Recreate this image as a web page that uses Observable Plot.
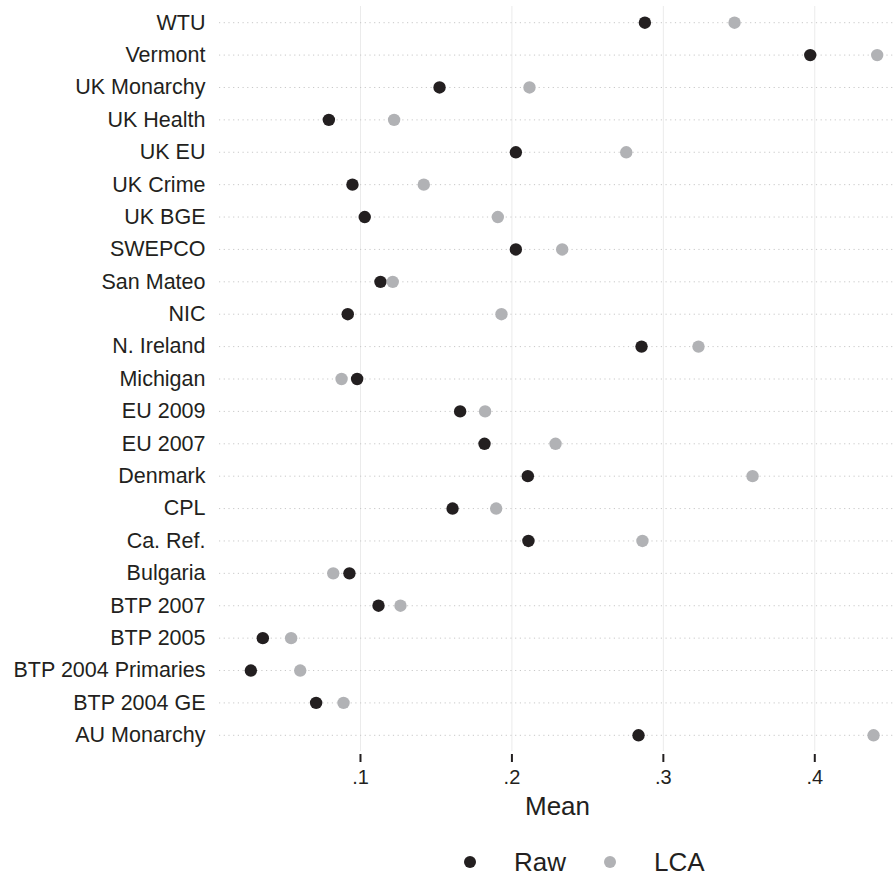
<!DOCTYPE html>
<html>
<head>
<meta charset="utf-8">
<script src="https://cdn.jsdelivr.net/npm/d3@7"></script>
<script src="https://cdn.jsdelivr.net/npm/@observablehq/plot@0.6"></script>
<style>
  html, body { margin: 0; padding: 0; background: #fff; }
  body { width: 895px; height: 876px; overflow: hidden; font-family: "Liberation Sans", Arial, Helvetica, sans-serif; color: #231f20; }
  #legend { display: flex; align-items: center; height: 60px; padding-left: 464px; font-size: 26px; line-height: 1; }
  #legend .dot { width: 12px; height: 12px; border-radius: 50%; display: inline-block; margin-right: 38px; }
  #legend .lbl { margin-right: 38px; }
</style>
</head>
<body>
<div id="chart"></div>
<div id="legend"></div>
<script>
const categories = ["WTU", "Vermont", "UK Monarchy", "UK Health", "UK EU", "UK Crime", "UK BGE", "SWEPCO", "San Mateo", "NIC", "N. Ireland", "Michigan", "EU 2009", "EU 2007", "Denmark", "CPL", "Ca. Ref.", "Bulgaria", "BTP 2007", "BTP 2005", "BTP 2004 Primaries", "BTP 2004 GE", "AU Monarchy"];
const rawValues = [0.2878, 0.3970, 0.1522, 0.0791, 0.2026, 0.0947, 0.1028, 0.2026, 0.1132, 0.0916, 0.2856, 0.0978, 0.1658, 0.1819, 0.2105, 0.1608, 0.2109, 0.0927, 0.1119, 0.0355, 0.0276, 0.0707, 0.2836];
const lcaValues = [0.3470, 0.4412, 0.2116, 0.1222, 0.2755, 0.1418, 0.1907, 0.2332, 0.1213, 0.1931, 0.3232, 0.0875, 0.1823, 0.2288, 0.3589, 0.1896, 0.2862, 0.0820, 0.1264, 0.0542, 0.0602, 0.0888, 0.4388];
const seriesNames = ["Raw", "LCA"];
const seriesColors = ["#231f20", "#b1b2b5"];
const xTicks = [0.1, 0.2, 0.3, 0.4];
const xDomain = [0.0069, 0.4533];

const rawData = categories.map((c, i) => ({cat: c, value: rawValues[i], series: seriesNames[0]}));
const lcaData = categories.map((c, i) => ({cat: c, value: lcaValues[i], series: seriesNames[1]}));
const fmt = d => d3.format(".1f")(d).replace(/^0/, "");

const chart = Plot.plot({
  width: 895,
  height: 832,
  marginLeft: 219,
  marginRight: 0,
  marginTop: 6,
  marginBottom: 81,
  style: {fontFamily: "'Liberation Sans', Arial, Helvetica, sans-serif", color: "#231f20", background: "#fff"},
  x: {domain: xDomain, ticks: xTicks},
  y: {domain: categories, type: "point", padding: 0.5, round: false},
  color: {domain: seriesNames, range: seriesColors},
  marks: [
    Plot.gridX(xTicks, {stroke: "#ebebeb", strokeOpacity: 1, strokeWidth: 1}),
    Plot.gridY(categories, {stroke: "#c8c8c8", strokeOpacity: 1, strokeDasharray: "1.2 3.5", strokeWidth: 1}),
    Plot.axisY({tickSize: 0, tickPadding: 14, fontSize: 21.5, label: null}),
    Plot.axisX(xTicks, {tickSize: 8, dy: 3, stroke: "#231f20", tickPadding: 7, strokeWidth: 2, fontSize: 20, tickFormat: fmt, label: "Mean", labelAnchor: "center", labelArrow: "none", labelOffset: 63}),
    Plot.dot(rawData, {x: "value", y: "cat", fill: "series", r: 6.2, stroke: null}),
    Plot.dot(lcaData, {x: "value", y: "cat", fill: "series", r: 6.2, stroke: null})
  ]
});
chart.querySelectorAll("g[aria-label='x-axis label'] text").forEach(t => t.setAttribute("font-size", "26"));
document.getElementById("chart").appendChild(chart);

const legend = document.getElementById("legend");
seriesNames.forEach((name, i) => {
  const dot = document.createElement("span");
  dot.className = "dot";
  dot.style.background = seriesColors[i];
  const lbl = document.createElement("span");
  lbl.className = "lbl";
  lbl.textContent = name;
  legend.appendChild(dot);
  legend.appendChild(lbl);
});
</script>
</body>
</html>
